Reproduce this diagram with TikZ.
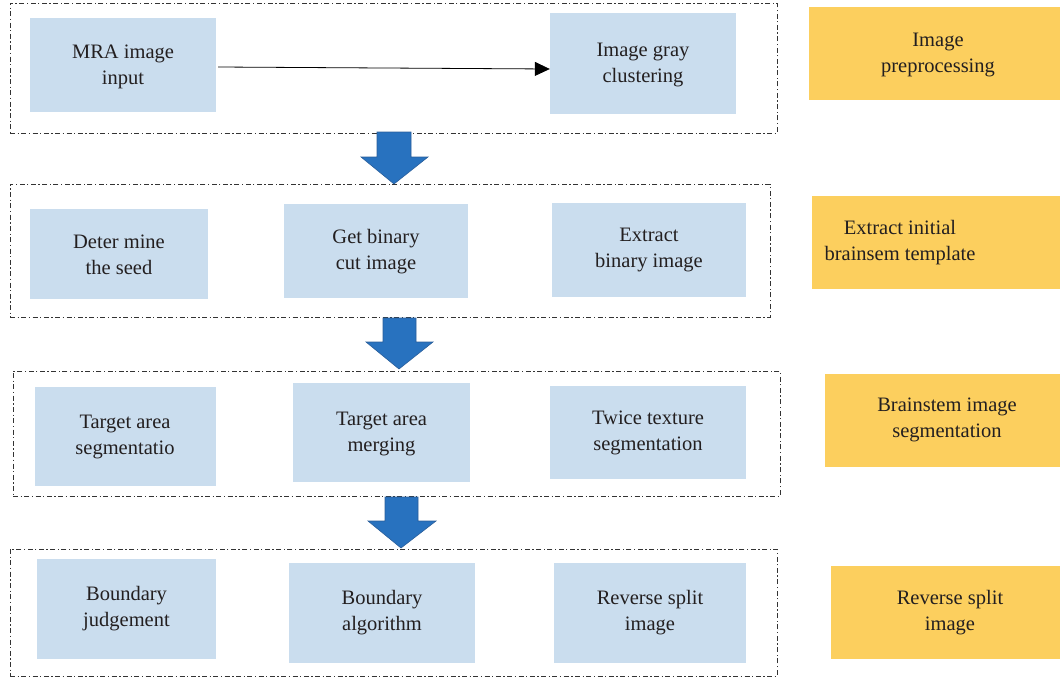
\documentclass[tikz,border=0pt]{standalone}
\usepackage{fontspec}
\setmainfont{Liberation Serif}
\usetikzlibrary{arrows.meta,calc}
\definecolor{boxblue}{HTML}{CADDEE}
\definecolor{boxyel}{HTML}{FCCF5E}
\definecolor{arrblue}{HTML}{2872BF}
\definecolor{arredge}{HTML}{2A5E9A}
\definecolor{txt}{HTML}{231F20}
\begin{document}
\begin{tikzpicture}[x=1pt,y=-1pt,
  frame/.style={draw=black!80, line width=1pt, dash pattern=on 5pt off 2.5pt on 1.3pt off 2.5pt, rectangle, inner sep=0pt},
  bluebox/.style={fill=boxblue, rectangle, inner sep=0pt, text=txt, align=center, font=\fontsize{20.5}{26}\selectfont, text depth=0pt},
  yelbox/.style={fill=boxyel, rectangle, inner sep=0pt},
  lbl/.style={text=txt, align=center, font=\fontsize{20.5}{26}\selectfont, inner sep=0pt},
  blockarrow/.style={fill=arrblue, draw=arredge, line width=0.6pt}]
\useasboundingbox (0,0) rectangle (1060,680);
% frames
\node[frame, minimum width=767pt, minimum height=130pt] (f1) at (393.5,68) {};
\node[frame, minimum width=760pt, minimum height=133pt] (f2) at (390,250.5) {};
\node[frame, minimum width=767pt, minimum height=125pt] (f3) at (396.5,433.5) {};
\node[frame, minimum width=767pt, minimum height=127pt] (f4) at (393.5,612.5) {};
% row 1
\node[bluebox, minimum width=186pt, minimum height=94pt] (mra) at (123,65) {};
\node[bluebox, minimum width=186pt, minimum height=101pt] (gray) at (643,63.5) {};
% row 2
\node[bluebox, minimum width=178pt, minimum height=90pt] (seed) at (119,254) {};
\node[bluebox, minimum width=184pt, minimum height=94pt] (cut) at (376,251) {};
\node[bluebox, minimum width=194pt, minimum height=94pt] (ext) at (649,250) {};
% row 3
\node[bluebox, minimum width=181pt, minimum height=99pt] (tseg) at (125.5,436.5) {};
\node[bluebox, minimum width=177pt, minimum height=99pt] (tmerge) at (381.5,432.5) {};
\node[bluebox, minimum width=196pt, minimum height=93pt] (twice) at (648,432.5) {};
% row 4
\node[bluebox, minimum width=179pt, minimum height=100pt] (bj) at (126.5,609) {};
\node[bluebox, minimum width=186pt, minimum height=100pt] (ba) at (382,613) {};
\node[bluebox, minimum width=192pt, minimum height=100pt] (rs) at (650,613) {};
% box labels
\node[lbl] at (123,67) {MRA image\\input};
\node[lbl] at (643,65) {Image gray\\clustering};
\node[lbl] at (119,255) {Deter mine\\the seed};
\node[lbl] at (376,252) {Get binary\\cut image};
\node[lbl] at (649,250) {Extract\\binary image};
\node[lbl] at (125,437) {Target area\\segmentatio};
\node[lbl] at (381.5,434) {Target area\\merging};
\node[lbl] at (648,433) {Twice texture\\segmentation};
\node[lbl] at (126.5,609) {Boundary\\judgement};
\node[lbl] at (382,613) {Boundary\\algorithm};
\node[lbl] at (650,613) {Reverse split\\image};
% yellow stage boxes
\node[yelbox, minimum width=251pt, minimum height=93pt] (y1) at (934.5,53.5) {};
\node[yelbox, minimum width=248pt, minimum height=93pt] (y2) at (936,242.5) {};
\node[yelbox, minimum width=235pt, minimum height=93pt] (y3) at (942.5,420.5) {};
\node[yelbox, minimum width=229pt, minimum height=93pt] (y4) at (945.5,612.5) {};
\node[lbl] (t1) at (938,55) {Image\\preprocessing};
\node[lbl] (t2) at (900,243) {Extract initial\\brainsem template};
\node[lbl] (t3) at (947,420) {Brainstem image\\segmentation};
\node[lbl] (t4) at (950,613) {Reverse split\\image};
% connector
\draw[line width=0.8pt, -{Triangle[length=15pt,width=14pt]}] ($(mra.east)+(2,2)$) -- ($(gray.west)+(0,5.5)$);
% block arrows
\draw[blockarrow] (377,132) -- (411,132) -- (411,157) -- (428,157) -- (394,184) -- (361,157) -- (377,157) -- cycle;
\draw[blockarrow] (383,318) -- (416,318) -- (416,342) -- (433,342) -- (399,369) -- (366,342) -- (383,342) -- cycle;
\draw[blockarrow] (385,497) -- (418,497) -- (418,521) -- (436,521) -- (401,548) -- (368,521) -- (385,521) -- cycle;
\end{tikzpicture}
\end{document}
